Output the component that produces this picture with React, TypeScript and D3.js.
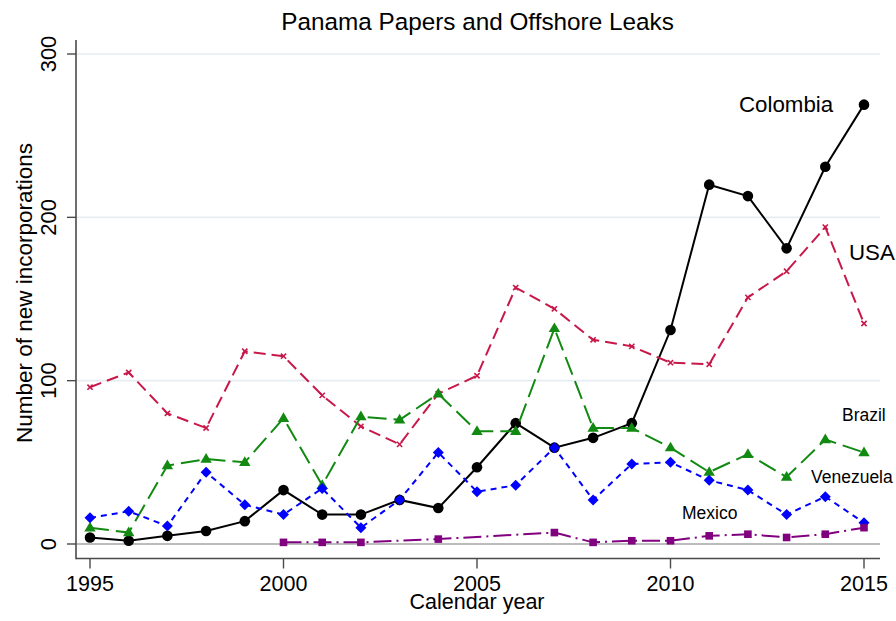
import React from "react";
import * as d3 from "d3";

const years = [1995, 1996, 1997, 1998, 1999, 2000, 2001, 2002, 2003, 2004, 2005, 2006, 2007, 2008, 2009, 2010, 2011, 2012, 2013, 2014, 2015];
const colombia = [4, 2, 5, 8, 14, 33, 18, 18, 27, 22, 47, 74, 59, 65, 74, 131, 220, 213, 181, 231, 269];
const usa = [96, 105, 80, 71, 118, 115, 91, 72, 61, 92, 103, 157, 144, 125, 121, 111, 110, 151, 167, 194, 135];
const brazil = [10, 7, 48, 52, 50, 77, 36, 78, 76, 92, 69, 69, 132, 71, 71, 59, 44, 55, 41, 64, 56];
const venezuela = [16, 20, 11, 44, 24, 18, 34, 10, 27, 56, 32, 36, 59, 27, 49, 50, 39, 33, 18, 29, 13];
const mexicoYears = [2000, 2001, 2002, 2004, 2007, 2008, 2009, 2010, 2011, 2012, 2013, 2014, 2015];
const mexico = [1, 1, 1, 3, 7, 1, 2, 2, 5, 6, 4, 6, 10];

const xTicks = [1995, 2000, 2005, 2010, 2015];
const yTicks = [0, 100, 200, 300];

const FONT = "'Liberation Sans', Arial, Helvetica, sans-serif";

const W = 896;
const H = 621;

const x = d3.scaleLinear().domain([1995, 2015]).range([90, 864]);
const y = d3.scaleLinear().domain([0, 300]).range([544, 54]);

const AX_LEFT = 76;
const AX_RIGHT = 880;
const AX_BOTTOM = 558.5;
const AX_TOP = 40;

type Pt = [number, number];
const toPts = (xs: number[], vs: number[]): Pt[] => xs.map((yr, i) => [yr, vs[i]] as Pt);

const line = d3
  .line<Pt>()
  .x((d) => x(d[0]))
  .y((d) => y(d[1]));

const C_COL = "#000000";
const C_USA = "#c8184a";
const C_BRA = "#128a12";
const C_VEN = "#0000ff";
const C_MEX = "#800080";

export default function App() {
  const col = toPts(years, colombia);
  const us = toPts(years, usa);
  const br = toPts(years, brazil);
  const ve = toPts(years, venezuela);
  const mx = toPts(mexicoYears, mexico);

  return (
    <svg
      width={W}
      height={H}
      viewBox={`0 0 ${W} ${H}`}
      style={{ position: "absolute", left: 0, top: 0, background: "#fff" }}
    >
      <rect x={0} y={0} width={W} height={H} fill="#fff" />
      {/* gridlines */}
      {yTicks
        .filter((t) => t > 0)
        .map((t) => (
          <line key={"g" + t} x1={AX_LEFT} x2={AX_RIGHT} y1={y(t)} y2={y(t)} stroke="#e6edf2" strokeWidth={1.6} />
        ))}
      <line x1={AX_LEFT} x2={AX_RIGHT} y1={y(0)} y2={y(0)} stroke="#a6a6a6" strokeWidth={1.4} />

      {/* axes */}
      <line x1={AX_LEFT} x2={AX_LEFT} y1={AX_TOP} y2={AX_BOTTOM + 0.8} stroke="#4a4a4a" strokeWidth={1.6} />
      <line x1={AX_LEFT} x2={AX_RIGHT} y1={AX_BOTTOM} y2={AX_BOTTOM} stroke="#4a4a4a" strokeWidth={1.6} />
      {yTicks.map((t) => (
        <g key={"yt" + t}>
          <line x1={AX_LEFT - 9} x2={AX_LEFT} y1={y(t)} y2={y(t)} stroke="#4a4a4a" strokeWidth={1.4} />
          <text
            transform={`translate(56,${y(t)}) rotate(-90)`}
            textAnchor="middle"
            fontFamily={FONT}
            fontSize={22}
            fill="#000"
          >
            {t}
          </text>
        </g>
      ))}
      {xTicks.map((t) => (
        <g key={"xt" + t}>
          <line x1={x(t)} x2={x(t)} y1={AX_BOTTOM} y2={AX_BOTTOM + 10} stroke="#4a4a4a" strokeWidth={1.4} />
          <text x={x(t)} y={590.5} textAnchor="middle" fontFamily={FONT} fontSize={21.5} fill="#000">
            {t}
          </text>
        </g>
      ))}

      {/* titles */}
      <text x={477.5} y={29.5} textAnchor="middle" fontFamily={FONT} fontSize={24.3} fill="#000">
        Panama Papers and Offshore Leaks
      </text>
      <text x={477} y={609} textAnchor="middle" fontFamily={FONT} fontSize={21.5} fill="#000">
        Calendar year
      </text>
      <text
        transform={`translate(32,293) rotate(-90)`}
        textAnchor="middle"
        fontFamily={FONT}
        fontSize={22.5}
        fill="#000"
      >
        Number of new incorporations
      </text>

      {/* Colombia */}
      <path d={line(col) || ""} fill="none" stroke={C_COL} strokeWidth={2} />
      {col.map((d, i) => (
        <circle key={"c" + i} cx={x(d[0])} cy={y(d[1])} r={5.3} fill={C_COL} />
      ))}

      {/* USA */}
      <path d={line(us) || ""} fill="none" stroke={C_USA} strokeWidth={2} strokeDasharray="12,6" />
      {us.map((d, i) => {
        const cx = x(d[0]);
        const cy = y(d[1]);
        const s = 2.6;
        return (
          <g key={"u" + i} stroke={C_USA} strokeWidth={1.6}>
            <line x1={cx - s} y1={cy - s} x2={cx + s} y2={cy + s} />
            <line x1={cx - s} y1={cy + s} x2={cx + s} y2={cy - s} />
          </g>
        );
      })}

      {/* Brazil */}
      <path d={line(br) || ""} fill="none" stroke={C_BRA} strokeWidth={2} strokeDasharray="19,7" />
      {br.map((d, i) => {
        const cx = x(d[0]);
        const cy = y(d[1]);
        const s = 6;
        return (
          <path
            key={"b" + i}
            d={`M${cx},${cy - s}L${cx + s * 0.95},${cy + s * 0.62}L${cx - s * 0.95},${cy + s * 0.62}Z`}
            fill={C_BRA}
          />
        );
      })}

      {/* Venezuela */}
      <path d={line(ve) || ""} fill="none" stroke={C_VEN} strokeWidth={2} strokeDasharray="6,5" />
      {ve.map((d, i) => {
        const cx = x(d[0]);
        const cy = y(d[1]);
        const s = 5.5;
        return (
          <path key={"v" + i} d={`M${cx},${cy - s}L${cx + s},${cy}L${cx},${cy + s}L${cx - s},${cy}Z`} fill={C_VEN} />
        );
      })}

      {/* Mexico */}
      <path d={line(mx) || ""} fill="none" stroke={C_MEX} strokeWidth={2} strokeDasharray="18,5,2,5" />
      {mx.map((d, i) => (
        <rect key={"m" + i} x={x(d[0]) - 3.8} y={y(d[1]) - 3.8} width={7.6} height={7.6} fill={C_MEX} />
      ))}

      {/* labels */}
      <text x={739} y={112} fontFamily={FONT} fontSize={22.3} fill="#000">
        Colombia
      </text>
      <text x={849} y={260} fontFamily={FONT} fontSize={22.3} fill="#000">
        USA
      </text>
      <text x={842} y={421} fontFamily={FONT} fontSize={17.5} fill="#000">
        Brazil
      </text>
      <text x={811} y={483} fontFamily={FONT} fontSize={17.5} fill="#000">
        Venezuela
      </text>
      <text x={682} y={518.5} fontFamily={FONT} fontSize={17.5} fill="#000">
        Mexico
      </text>
    </svg>
  );
}
